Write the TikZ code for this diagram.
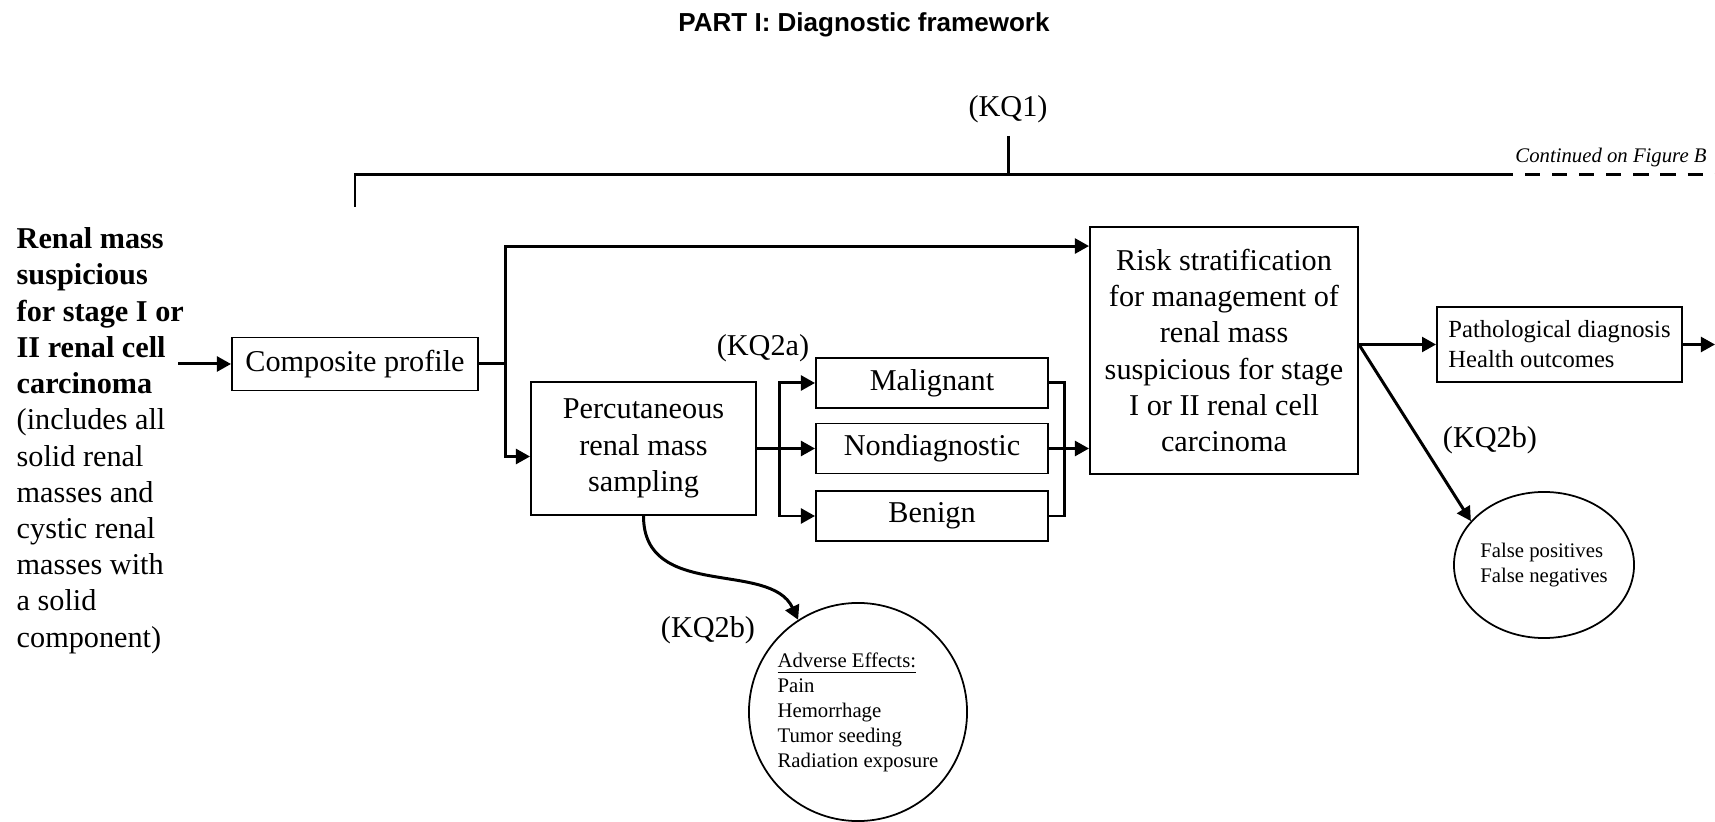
\documentclass[tikz,border=0pt]{standalone}
\usepackage{fontspec}
\setmainfont{Liberation Serif}
\newfontfamily\titlefont{Liberation Sans}
\usepackage{tikz}
\usetikzlibrary{positioning}
\usetikzlibrary{arrows.meta}
\usetikzlibrary{calc}
\usetikzlibrary{shapes.geometric}

\newcommand{\boxfont}{\fontsize{8.6}{10.3}\selectfont}
\newcommand{\notefont}{\fontsize{5.9}{7.1}\selectfont}
\newcommand{\outfont}{\fontsize{7}{8.5}\selectfont}

\begin{document}
\begin{tikzpicture}[x=0.01cm, y=-0.01cm, font=\boxfont,
	line/.style={line width=0.85pt},
	arr/.style={line, ->, >={Triangle[length=4pt,width=4.2pt]}},
	box/.style={draw, line width=0.5pt, inner sep=0pt, align=center},
	bubble/.style={draw, line width=0.5pt, inner sep=0pt, align=left, font=\notefont}]
	% Page size of the picture
	\useasboundingbox (0,0) rectangle (1715,822);
	
	\node[anchor=base, font=\titlefont\bfseries\fontsize{7.4}{9}\selectfont] (title) at (864,32) {PART I: Diagnostic framework};
	
	% KQ1 bracket
	\node[anchor=base] (kqone) at (1008,117) {(KQ1)};
	\coordinate (kqjoin) at (1008,175);
	\coordinate (kqleft) at (355,207);
	\coordinate (kqdash) at (1498,175);
	\coordinate (kqend) at (1715,175);
	\draw[line] (kqone) -- (kqjoin);
	\draw[line] (kqleft) |- (kqjoin) -- (kqdash);
	\draw[line, dash pattern=on 4.3pt off 3.4pt] (kqdash) -- (kqend);
	\node[anchor=base west, font=\notefont\itshape] (cont) at (1503,163) {Continued on Figure B};
	
	% Population
	\node[anchor=north west, align=left, inner sep=0pt] (mass) at (16,227) {\textbf{Renal mass}\\\textbf{suspicious}\\\textbf{for stage I or}\\\textbf{II renal cell}\\\textbf{carcinoma}\\(includes all\\solid renal\\masses and\\cystic renal\\masses with\\a solid\\component)};
	
	% Boxes
	\node[box, minimum width=2.46cm, minimum height=0.53cm] (comp) at (355,364) {Composite profile};
	\node[box, minimum width=2.25cm, minimum height=1.33cm] (perc) at (643.5,448.5) {Percutaneous\\renal mass\\sampling};
	\node[box, minimum width=2.32cm, minimum height=0.5cm] (malg) at (932,383) {Malignant};
	\node[box, minimum width=2.32cm, minimum height=0.5cm] (nond) at (932,448.5) {Nondiagnostic};
	\node[box, minimum width=2.32cm, minimum height=0.5cm] (beni) at (932,516) {Benign};
	\node[box, minimum width=2.68cm, minimum height=2.47cm] (risk) at (1224,350.5) {Risk stratification\\for management of\\renal mass\\suspicious for stage\\I or II renal cell\\carcinoma};
	\node[box, align=left, font=\outfont, minimum width=2.45cm, minimum height=0.75cm] (patho) at (1559.5,344.5) {Pathological diagnosis\\Health outcomes};
	
	% Harms
	\node[bubble, ellipse, minimum width=1.77cm, minimum height=1.46cm] (fpos) at (1544,565) {False positives\\False negatives};
	\node[bubble, circle, minimum size=2.18cm] (adv) at (858,712) {\underline{Adverse Effects:}\\Pain\\Hemorrhage\\Tumor seeding\\Radiation exposure};
	
	\node[anchor=base] (kqtwoa) at (763,356) {(KQ2a)};
	\node[anchor=base] (kqtwob) at (708,638) {(KQ2b)};
	\node[anchor=base] (kqtwoc) at (1490,448) {(KQ2b)};
	
	% Connectors
	\coordinate (inarr) at (178,364);
	\draw[arr] (inarr) -- (comp);
	\coordinate (cbus) at (505,364);
	\draw[line] (comp) -- (cbus);
	\draw[arr] (cbus) |- ($(risk.north west)+(0,20)$);
	\draw[arr] (cbus) |- ($(perc.west)+(0,8)$);
	
	\coordinate (lbus) at (779,448.5);
	\draw[arr] (perc) -- (nond);
	\draw[arr] (lbus) |- (malg);
	\draw[arr] (lbus) |- (beni);
	\coordinate (rbus) at (1064,448.5);
	\draw[line] (malg) -| (rbus);
	\draw[line] (beni) -| (rbus);
	\draw[arr] (nond) -- (risk.west |- nond);
	
	\coordinate (pout) at (1715,344.5);
	\draw[arr] (risk.east |- patho) -- (patho);
	\draw[arr] (patho) -- (pout);
	\draw[arr] (risk.east |- patho) -- (fpos.149);
	\draw[arr] (perc.south) .. controls +(0,85) and +(-28,-60) .. (adv.123);
\end{tikzpicture}
\end{document}
